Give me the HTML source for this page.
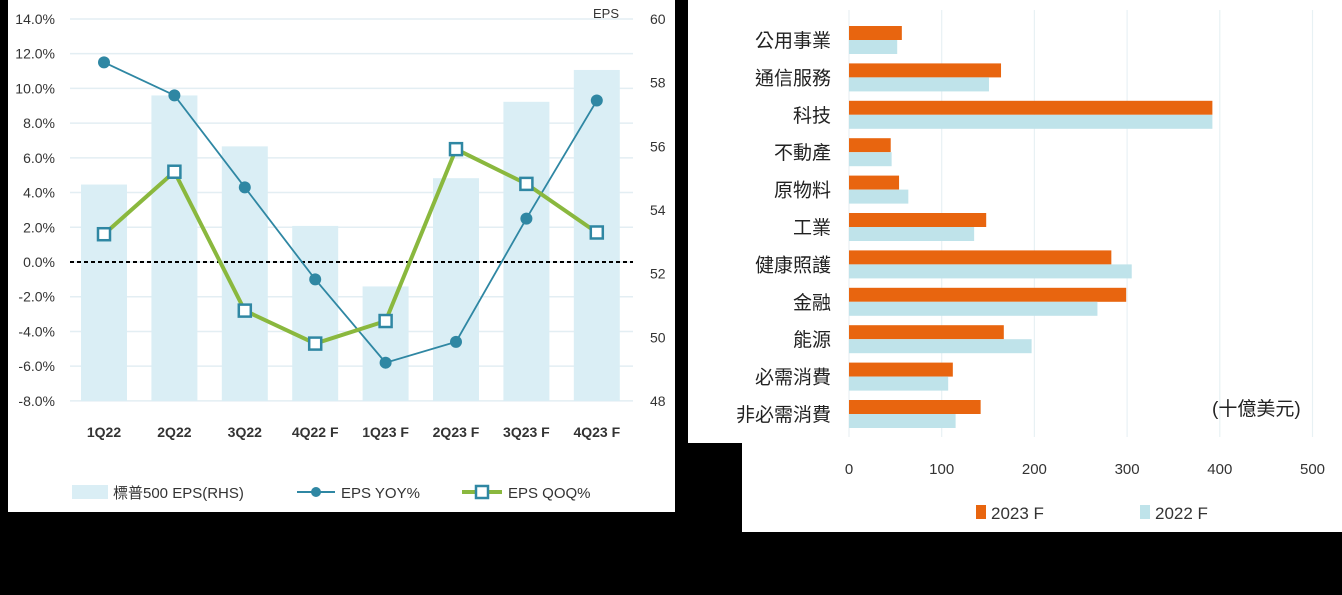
<!DOCTYPE html>
<html><head><meta charset="utf-8"><style>
body{margin:0;background:#000;width:1342px;height:595px;overflow:hidden;font-family:"Liberation Sans","Noto Sans CJK TC",sans-serif}
svg{display:block}
</style></head><body>
<svg id="s" width="1342" height="595">
<rect x="0" y="0" width="1342" height="595" fill="#000"/>
<rect x="8" y="0" width="667" height="512" fill="#fff"/>
<path d="M688 0H1342V532H742V443H688Z" fill="#fff"/>
<g id="L"></g><g id="R"></g>
</svg>
<script>
const quarters=["1Q22","2Q22","3Q22","4Q22 F","1Q23 F","2Q23 F","3Q23 F","4Q23 F"];
const epsValues=[54.8,57.6,56.0,53.5,51.6,55.0,57.4,58.4];
const yoyValues=[11.5,9.6,4.3,-1.0,-5.8,-4.6,2.5,9.3];
const qoqValues=[1.6,5.2,-2.8,-4.7,-3.4,6.5,4.5,1.7];
const leftTicks=[14,12,10,8,6,4,2,0,-2,-4,-6,-8];
const rightTicks=[60,58,56,54,52,50,48];
const sectors=["公用事業","通信服務","科技","不動產","原物料","工業","健康照護","金融","能源","必需消費","非必需消費"];
const v2023=[57,164,392,45,54,148,283,299,167,112,142];
const v2022=[52,151,392,46,64,135,305,268,197,107,115];
const xTicks=[0,100,200,300,400,500];
const NS="http://www.w3.org/2000/svg";
function mk(p,t,a,txt){const e=document.createElementNS(NS,t);for(const k in a)e.setAttribute(k,a[k]);if(txt!=null)e.textContent=txt;p.appendChild(e);return e;}
const L=document.getElementById('L'),R=document.getElementById('R');
const yP=v=>262-v*17.36, yE=v=>401-(v-48)*31.83, xQ=i=>104+i*70.4;
leftTicks.forEach(t=>{
 const g=mk(L,'line',{x1:70,x2:633,y1:yP(t),y2:yP(t),stroke:'#e3eef3','stroke-width':1.5});
 
 const l=mk(L,'text',{x:55,y:yP(t)+5,'text-anchor':'end','font-size':14,fill:'#333'},t.toFixed(1)+'%');
 
});
rightTicks.forEach(t=>{
 const l=mk(L,'text',{x:650,y:yE(t)+5,'font-size':14,fill:'#333'},t);
 
});
mk(L,'text',{x:593,y:18,'font-size':13,fill:'#333'},'EPS');
epsValues.forEach((v,i)=>{
 const b=mk(L,'rect',{x:xQ(i)-23,y:yE(v),width:46,height:401-yE(v),fill:'#daeef5'});
 
});
quarters.forEach((q,i)=>{
 const l=mk(L,'text',{x:xQ(i),y:437,'text-anchor':'middle','font-size':14,'font-weight':'bold',fill:'#333'},q);
 
});
mk(L,'line',{x1:70,x2:633,y1:yP(0),y2:yP(0),stroke:'#000','stroke-width':2,'stroke-dasharray':'4,3'});
mk(L,'polyline',{points:yoyValues.map((v,i)=>xQ(i)+','+yP(v)).join(' '),fill:'none',stroke:'#2f87a3','stroke-width':1.8});
yoyValues.forEach((v,i)=>{const c=mk(L,'circle',{cx:xQ(i),cy:yP(v),r:6,fill:'#2f87a3'});});
mk(L,'polyline',{points:qoqValues.map((v,i)=>xQ(i)+','+yP(v)).join(' '),fill:'none',stroke:'#8ab83e','stroke-width':4});
qoqValues.forEach((v,i)=>{const c=mk(L,'rect',{x:xQ(i)-6,y:yP(v)-6,width:12,height:12,fill:'#fff',stroke:'#2f87a3','stroke-width':2.5});});
// left legend
mk(L,'rect',{x:72,y:485,width:36,height:14,fill:'#daeef5'});
mk(L,'text',{x:113,y:498,'font-size':15,fill:'#333'},'標普500 EPS(RHS)');
mk(L,'line',{x1:297,x2:335,y1:492,y2:492,stroke:'#2f87a3','stroke-width':2});
mk(L,'circle',{cx:316,cy:492,r:5,fill:'#2f87a3'});
mk(L,'text',{x:341,y:498,'font-size':15,fill:'#333'},'EPS YOY%');
mk(L,'line',{x1:462,x2:502,y1:492,y2:492,stroke:'#8ab83e','stroke-width':4});
mk(L,'rect',{x:476,y:486,width:12,height:12,fill:'#fff',stroke:'#2f87a3','stroke-width':2.5});
mk(L,'text',{x:508,y:498,'font-size':15,fill:'#333'},'EPS QOQ%');
// right chart
const xS=v=>849+v*0.927, yS=i=>40+i*37.4;
xTicks.forEach(t=>{
 const g=mk(R,'line',{x1:xS(t),x2:xS(t),y1:10,y2:437,stroke:'#e8f1f4','stroke-width':1.2});
 
 const l=mk(R,'text',{x:xS(t),y:474,'text-anchor':'middle','font-size':15,fill:'#333'},t);
 
});
sectors.forEach((s,i)=>{
 const l=mk(R,'text',{x:831,y:yS(i)+7,'text-anchor':'end','font-size':19,fill:'#222'},s);
 
 const a=mk(R,'rect',{x:849,y:yS(i)-14,width:xS(v2023[i])-849,height:14,fill:'#e8650f'});
 
 const b=mk(R,'rect',{x:849,y:yS(i),width:xS(v2022[i])-849,height:14,fill:'#bfe3ea'});
 
});
mk(R,'text',{x:1212,y:415,'font-size':19,fill:'#222'},'(十億美元)');
mk(R,'rect',{x:976,y:505,width:10,height:14,fill:'#e8650f'});
mk(R,'text',{x:991,y:519,'font-size':17,fill:'#333'},'2023 F');
mk(R,'rect',{x:1140,y:505,width:10,height:14,fill:'#bfe3ea'});
mk(R,'text',{x:1155,y:519,'font-size':17,fill:'#333'},'2022 F');
</script>
</body></html>
